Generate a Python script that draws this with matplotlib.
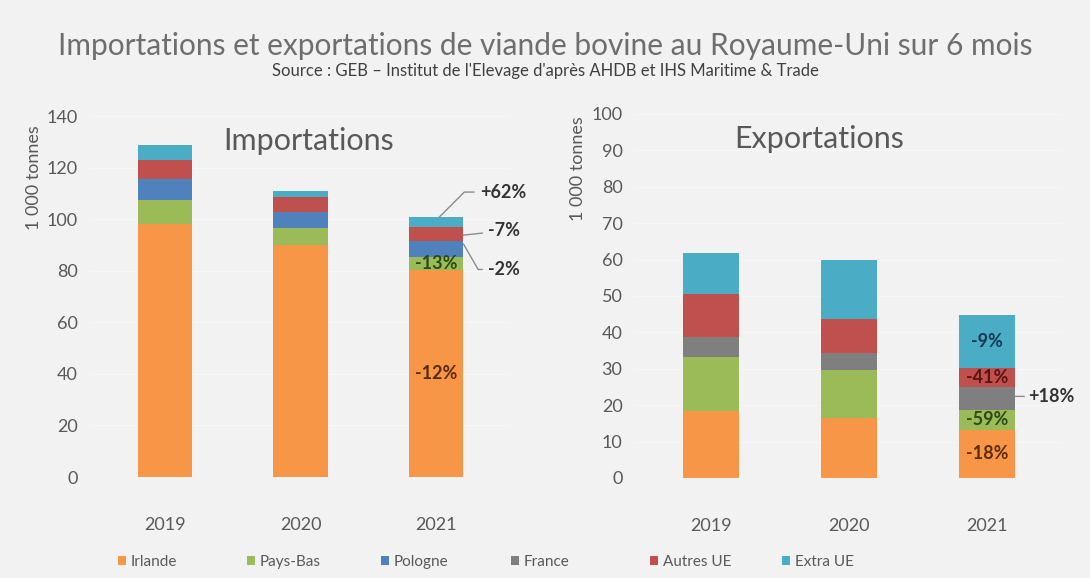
import matplotlib
matplotlib.use("Agg")
import matplotlib.pyplot as plt
from matplotlib.patches import Patch
import numpy as np

years = ["2019", "2020", "2021"]
categories = ["Irlande", "Pays-Bas", "Pologne", "France", "Autres UE", "Extra UE"]
colors = ["#F79646", "#9BBB59", "#4F81BD", "#7F7F7F", "#C0504D", "#4BACC6"]

imp_irlande = [98.3, 89.9, 80.2]
imp_paysbas = [9.3, 6.5, 5.2]
imp_pologne = [7.8, 6.4, 6.2]
imp_france = [0.0, 0.0, 0.0]
imp_autres = [7.7, 5.6, 5.5]
imp_extra = [5.6, 2.5, 3.6]

exp_irlande = [18.5, 16.4, 13.2]
exp_paysbas = [14.7, 13.3, 5.5]
exp_pologne = [0.0, 0.0, 0.0]
exp_france = [5.6, 4.6, 6.2]
exp_autres = [11.7, 9.4, 5.2]
exp_extra = [11.2, 16.2, 14.7]

imp_labels = ["-12%", "-13%", "-2%", "", "-7%", "+62%"]
exp_labels = ["-18%", "-59%", "", "+18%", "-41%", "-9%"]

imports = [imp_irlande, imp_paysbas, imp_pologne, imp_france, imp_autres, imp_extra]
exports = [exp_irlande, exp_paysbas, exp_pologne, exp_france, exp_autres, exp_extra]

BG = "#F2F2F2"
TXT = "#595959"
FONT = "Lato"
plt.rcParams["font.family"] = [FONT, "DejaVu Sans"]

W, H = 1090, 578
fig = plt.figure(figsize=(W / 100, H / 100), dpi=100, facecolor=BG)


def px_axes(x0, x1, y0, y1):
    return fig.add_axes([x0 / W, 1 - y1 / H, (x1 - x0) / W, (y1 - y0) / H])


def style(ax, ymax, step):
    ax.set_facecolor(BG)
    for s in ax.spines.values():
        s.set_visible(False)
    ax.set_ylim(0, ymax)
    ax.set_yticks(np.arange(0, ymax + 1, step))
    ax.set_xlim(-0.55, 2.55)
    ax.set_xticks(range(len(years)))
    ax.set_xticklabels(years)
    ax.tick_params(axis="both", length=0, labelsize=13, labelcolor=TXT)
    ax.tick_params(axis="x", pad=29)
    ax.tick_params(axis="y", pad=9)
    ax.yaxis.grid(True, color="#F6F6F6", linewidth=1.0)
    ax.set_axisbelow(True)
    ax.set_ylabel("1 000 tonnes", fontsize=13, color=TXT)


def stack(ax, data):
    x = np.arange(len(years))
    bottom = np.zeros(len(years))
    rects = []
    for vals, c in zip(data, colors):
        ax.bar(x, vals, 0.4, bottom=bottom, color=c, linewidth=0)
        rects.append((np.array(vals), bottom.copy()))
        bottom = bottom + np.array(vals)
    return rects, bottom


# ---------- Importations ----------
ax1 = px_axes(90, 511, 116, 477)
style(ax1, 140, 20)
r1, tot1 = stack(ax1, imports)
ax1.yaxis.set_label_coords(-0.115, 0.83)
ax1.text(0.52, 0.93, "Importations", transform=ax1.transAxes, ha="center",
         va="center", fontsize=22, color=TXT)

inner_col = {"-12%": "#5C2B0A", "-13%": "#2E4A14"}
for i, lab in enumerate(imp_labels):
    if lab in inner_col:
        v, b = r1[i]
        ax1.text(2, b[2] + v[2] / 2, lab, ha="center", va="center",
                 fontsize=13, fontweight="bold", color=inner_col[lab])

lc = "#8C8C8C"
# +62% (Extra UE)
v, b = r1[5]
ax1.annotate(imp_labels[5], xy=(2.02, b[2] + v[2]), xytext=(2.32, 110.5),
             fontsize=13, fontweight="bold", color="#333333", va="center", ha="left",
             arrowprops=dict(arrowstyle="-", color=lc, lw=1, shrinkA=2, shrinkB=0,
                             connectionstyle="angle,angleA=180,angleB=45,rad=0"))
# -7% (Autres UE)
v, b = r1[4]
ax1.annotate(imp_labels[4], xy=(2.2, b[2] + v[2] * 0.4), xytext=(2.38, 95.5),
             fontsize=13, fontweight="bold", color="#333333", va="center", ha="left",
             arrowprops=dict(arrowstyle="-", color=lc, lw=1, shrinkA=2, shrinkB=0))
# -2% (Pologne)
v, b = r1[2]
ax1.annotate(imp_labels[2], xy=(2.2, b[2] + v[2] * 0.8), xytext=(2.38, 80.5),
             fontsize=13, fontweight="bold", color="#333333", va="center", ha="left",
             arrowprops=dict(arrowstyle="-", color=lc, lw=1, shrinkA=2, shrinkB=0,
                             connectionstyle="angle,angleA=180,angleB=-60,rad=0"))

# ---------- Exportations ----------
ax2 = px_axes(635, 1063, 114, 478)
style(ax2, 100, 10)
r2, tot2 = stack(ax2, exports)
ax2.yaxis.set_label_coords(-0.115, 0.85)
ax2.text(0.43, 0.93, "Exportations", transform=ax2.transAxes, ha="center",
         va="center", fontsize=22, color=TXT)

inner_col2 = {"-18%": "#5C2B0A", "-59%": "#2E4A14", "-41%": "#5A1414", "-9%": "#143A55"}
for i, lab in enumerate(exp_labels):
    if lab in inner_col2:
        v, b = r2[i]
        ax2.text(2, b[2] + v[2] / 2, lab, ha="center", va="center",
                 fontsize=13, fontweight="bold", color=inner_col2[lab])
v, b = r2[3]
ax2.annotate(exp_labels[3], xy=(2.2, b[2] + v[2] * 0.6), xytext=(2.3, b[2] + v[2] * 0.6),
             fontsize=13, fontweight="bold", color="#333333", va="center", ha="left",
             arrowprops=dict(arrowstyle="-", color=lc, lw=1, shrinkA=1, shrinkB=0))

# ---------- Titles ----------
fig.text(0.5, 1 - 46 / H, "Importations et exportations de viande bovine au Royaume-Uni sur 6 mois",
         ha="center", va="center", fontsize=21.5, color="#6E6E6E")
fig.text(0.5, 1 - 71 / H, "Source : GEB \u2013 Institut de l'Elevage d'après AHDB et IHS Maritime & Trade",
         ha="center", va="center", fontsize=12, color="#404040")

# ---------- Legend ----------
leg_x = [118, 247, 381, 511, 650, 782]
for name, c, xp in zip(categories, colors, leg_x):
    lg = fig.legend(handles=[Patch(facecolor=c, edgecolor="none", label=name)],
                    loc="center left", bbox_to_anchor=(xp / W, 1 - 562 / H),
                    frameon=False, fontsize=11, handlelength=0.55, handleheight=0.55,
                    handletextpad=0.3, borderpad=0, borderaxespad=0)
    for t in lg.get_texts():
        t.set_color(TXT)

fig.savefig("out.png", dpi=100, facecolor=BG)
